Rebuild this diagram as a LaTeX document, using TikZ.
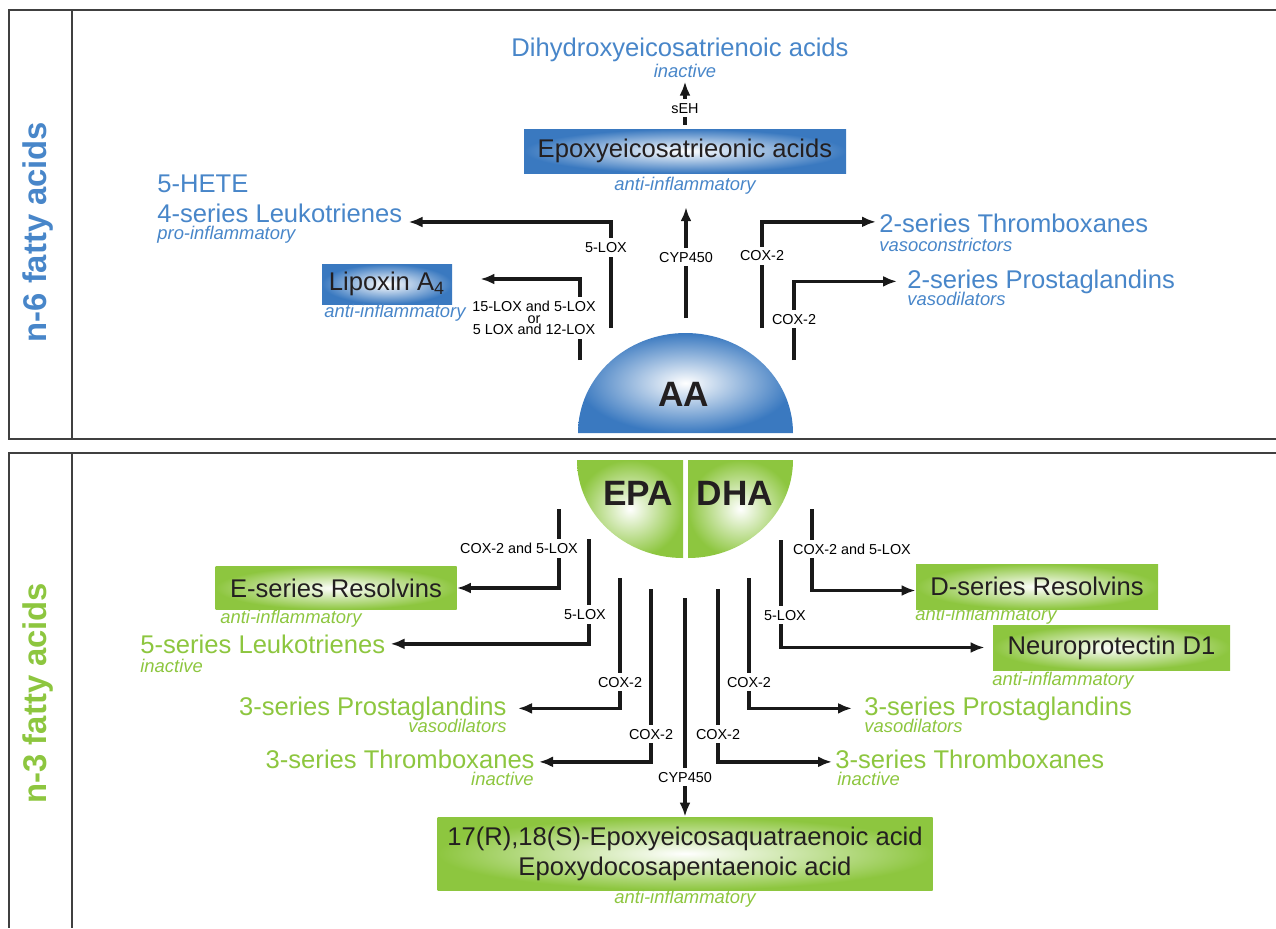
\documentclass[tikz,border=0pt]{standalone}
\usepackage{fontspec}
\setmainfont{Liberation Sans}
\usetikzlibrary{arrows.meta}

\definecolor{sixblue}{RGB}{72,134,201}
\definecolor{sixbox}{RGB}{58,121,192}
\definecolor{threegreen}{RGB}{141,198,63}
\definecolor{ink}{RGB}{35,31,32}

\tikzset{
  frame/.style={draw=black!75, line width=0.8pt},
  route/.style={->, line width=1.8pt, draw=black!90},
  enz/.style={fill=white, text=black, font=\fontsize{7.2}{7.2}\selectfont, inner sep=2pt},
  sixtxt/.style={text=sixblue, font=\fontsize{12.8}{15}\selectfont, inner sep=0pt},
  sixnote/.style={text=sixblue, font=\fontsize{9.2}{11}\selectfont\itshape, inner sep=0pt},
  threetxt/.style={text=threegreen, font=\fontsize{12.8}{15}\selectfont, inner sep=0pt},
  threenote/.style={text=threegreen, font=\fontsize{9.2}{11}\selectfont\itshape, inner sep=0pt},
  sixbox/.style={inner color=white, outer color=sixbox, text=ink, font=\fontsize{12.8}{15}\selectfont, inner sep=0pt},
  threebox/.style={inner color=white, outer color=threegreen, text=ink, font=\fontsize{12.8}{15}\selectfont, inner sep=0pt},
  acid/.style={text=ink, font=\fontsize{17.6}{20}\selectfont\bfseries}
}

\begin{document}
\begin{tikzpicture}[x=0.5pt, y=-0.5pt, >={Latex[length=7pt,width=5.5pt]}]
    \useasboundingbox (0,0) rectangle (1276,928);

    % n-6 panel
    \draw [frame] (1276,10) -- (9,10) -- (9,439) -- (1276,439);
    \draw [frame] (72,10) -- (72,439);
    \node [rotate=90, text=sixblue, font=\fontsize{16.4}{18}\selectfont\bfseries] (nsix) at (38,232) {n-6 fatty acids};

    \node [sixtxt, anchor=base] (dihet) at (680,56) {Dihydroxyeicosatrienoic acids};
    \node [sixnote, anchor=base] (dihetinf) at (685,77) {inactive};
    \node [sixbox, minimum width=161pt, minimum height=22pt] (eet) at (685,151) {Epoxyeicosatrieonic acids};
    \node [sixnote, anchor=base] (eetinf) at (685,190) {anti-inflammatory};
    \node [sixtxt, anchor=base west] (hete) at (157,192) {5-HETE};
    \node [sixtxt, anchor=base west] (lt4) at (157,222) {4-series Leukotrienes};
    \node [sixnote, anchor=base west] (lt4inf) at (157,239) {pro-inflammatory};
    \node [sixbox, minimum width=65pt, minimum height=20pt] (lipox) at (387,284) {Lipoxin A\textsubscript{4}};
    \node [sixnote, anchor=base west] (lipoxinf) at (324,317) {anti-inflammatory};
    \node [sixtxt, anchor=base west] (tx2) at (879,232) {2-series Thromboxanes};
    \node [sixnote, anchor=base west] (tx2inf) at (879,251) {vasoconstrictors};
    \node [sixtxt, anchor=base west] (pg2) at (907,288) {2-series Prostaglandins};
    \node [sixnote, anchor=base west] (pg2inf) at (907,305) {vasodilators};

    % AA half disc
    \shade [inner color=white, outer color=sixbox] (578,433) arc [start angle=180, end angle=0, x radius=53.75pt, y radius=50pt] -- cycle;
    \node [acid] (aa) at (684,394) {AA};

    % n-6 pathway starts
    \coordinate (loxsix) at (611,328);
    \coordinate (loxfift) at (580,360);
    \coordinate (cypsix) at (686,318);
    \coordinate (coxsixa) at (762,328);
    \coordinate (coxsixb) at (794,360);

    \draw [route, shorten <=2pt, shorten >=2pt] (eet.north) -- (dihetinf.south) node [enz, pos=0.4] (sehlbl) {sEH};
    \draw [route, shorten >=6.5pt] (cypsix) -- (cypsix |- eetinf.south) node [enz, pos=0.49] (cypsixlbl) {CYP450};
    \draw [route] (loxsix) |- ([xshift=3pt]lt4.base east) node [enz, pos=0.38, xshift=-2.5pt] (loxsixlbl) {5-LOX};
    \draw [route] (loxfift) |- ([xshift=14pt,yshift=2.5pt]lipox.east)
        node [enz, align=center, pos=0.26, xshift=-23pt, font=\fontsize{7.2}{5.8}\selectfont] (loxfiftlbl) {15-LOX and 5-LOX\\or\\5 LOX and 12-LOX};
    \draw [route] (coxsixa) |- ([xshift=-1.5pt,yshift=0.5pt]tx2.west) node [enz, pos=0.34] (coxsixalbl) {COX-2};
    \draw [route] (coxsixb) |- ([xshift=-5pt]pg2.west) node [enz, pos=0.26] (coxsixblbl) {COX-2};

    % n-3 panel
    \draw [frame] (1276,453) -- (9,453) -- (9,928);
    \draw [frame] (72,453) -- (72,928);
    \node [rotate=90, text=threegreen, font=\fontsize{16.4}{18}\selectfont\bfseries] (nthree) at (38,693) {n-3 fatty acids};

    % EPA and DHA quarter discs
    \shade [inner color=white, outer color=threegreen] (683,460) -- (683,558) arc [start angle=270, end angle=180, x radius=53pt, y radius=49pt] -- cycle;
    \shade [inner color=white, outer color=threegreen] (688,460) -- (793,460) arc [start angle=0, end angle=-90, x radius=52.5pt, y radius=49pt] -- cycle;
    \node [acid] (epa) at (638,493) {EPA};
    \node [acid] (dha) at (735,493) {DHA};

    \node [threebox, minimum width=120.5pt, minimum height=21.5pt] (esr) at (336,588) {E-series Resolvins};
    \node [threenote, anchor=base west] (esrinf) at (220,623) {anti-inflammatory};
    \node [threetxt, anchor=base west] (lt5) at (140,653) {5-series Leukotrienes};
    \node [threenote, anchor=base west] (lt5inf) at (140,672) {inactive};
    \node [threetxt, anchor=base east] (pg3l) at (507,715) {3-series Prostaglandins};
    \node [threenote, anchor=base east] (pg3linf) at (507,732) {vasodilators};
    \node [threetxt, anchor=base east] (tx3l) at (535,768) {3-series Thromboxanes};
    \node [threenote, anchor=base east] (tx3linf) at (534,785) {inactive};

    \node [threebox, minimum width=121pt, minimum height=22.5pt] (dsr) at (1037,586.5) {D-series Resolvins};
    \node [threenote, anchor=base west] (dsrinf) at (915,620) {anti-inflammatory};
    \node [threebox, minimum width=118.5pt, minimum height=22.5pt] (npd) at (1111.5,647.5) {Neuroprotectin D1};
    \node [threenote, anchor=base west] (npdinf) at (992,685) {anti-inflammatory};
    \node [threetxt, anchor=base west] (pg3r) at (864,715) {3-series Prostaglandins};
    \node [threenote, anchor=base west] (pg3rinf) at (864,732) {vasodilators};
    \node [threetxt, anchor=base west] (tx3r) at (835,768) {3-series Thromboxanes};
    \node [threenote, anchor=base west] (tx3rinf) at (837,785) {inactive};

    \node [threebox, minimum width=247.5pt, minimum height=36.5pt, align=center] (epox) at (685,853.5) {17(R),18(S)-Epoxyeicosaquatraenoic acid\\Epoxydocosapentaenoic acid};
    \node [threenote, anchor=base] (epoxinf) at (685,903) {anti-inflammatory};

    % n-3 pathway starts
    \coordinate (resve) at (559,509);
    \coordinate (loxthree) at (589,539);
    \coordinate (coxpgl) at (620,578);
    \coordinate (coxtxl) at (651,589);
    \coordinate (cypthree) at (685,598);
    \coordinate (coxtxr) at (718,589);
    \coordinate (coxpgr) at (749,578);
    \coordinate (loxnpd) at (781,540);
    \coordinate (resvd) at (812,509);

    \draw [route] (resve) |- (esr.east) node [enz, pos=0.25, xshift=-20pt] (resvelbl) {COX-2 and 5-LOX};
    \draw [route] (loxthree) |- ([xshift=2.5pt]lt5.east) node [enz, pos=0.36, xshift=-2pt] (loxthreelbl) {5-LOX};
    \draw [route] (coxpgl) |- ([xshift=5.5pt]pg3l.east) node [enz, pos=0.40] (coxpgllbl) {COX-2};
    \draw [route] (coxtxl) |- ([xshift=2pt,yshift=-1.5pt]tx3l.east) node [enz, pos=0.42] (coxtxllbl) {COX-2};
    \draw [route] (cypthree) -- (epox.north) node [enz, pos=0.82] (cypthreelbl) {CYP450};
    \draw [route] (coxtxr) |- ([xshift=-1.5pt,yshift=-1.5pt]tx3r.west) node [enz, pos=0.42] (coxtxrlbl) {COX-2};
    \draw [route] (coxpgr) |- ([xshift=-6pt]pg3r.west) node [enz, pos=0.40] (coxpgrlbl) {COX-2};
    \draw [route] (loxnpd) |- ([xshift=-4pt]npd.west) node [enz, pos=0.35, xshift=2pt] (loxnpdlbl) {5-LOX};
    \draw [route] (resvd) |- ([yshift=-2pt]dsr.west) node [enz, pos=0.245, xshift=20pt] (resvdlbl) {COX-2 and 5-LOX};

\end{tikzpicture}
\end{document}
